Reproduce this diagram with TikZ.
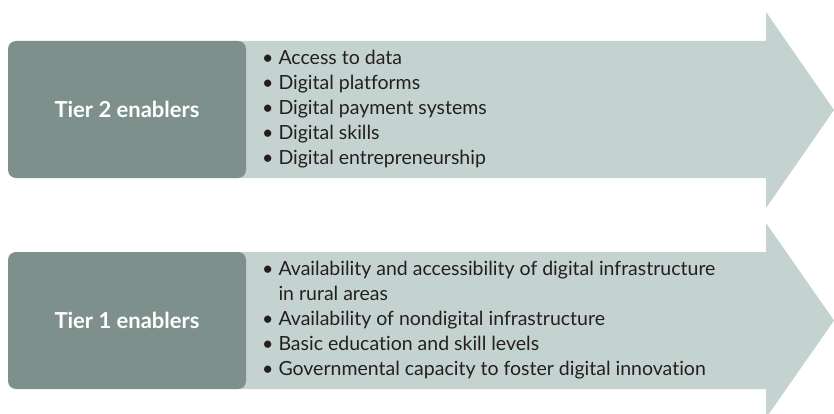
\documentclass[tikz,border=0pt]{standalone}
\usepackage{fontspec}
\setmainfont{Lato}[Ligatures=NoCommon]
\definecolor{tierbox}{RGB}{125,144,140}
\definecolor{tierarrow}{RGB}{197,211,208}
\definecolor{itemtext}{RGB}{35,31,32}
\begin{document}
\begin{tikzpicture}[x=1pt,y=1pt]
\tikzstyle{tier}=[fill=tierbox, rounded corners=8pt, minimum width=238pt, minimum height=137pt, inner sep=0pt, text=white, font=\fontsize{22}{24}\selectfont\bfseries]
\tikzstyle{items}=[anchor=west, align=left, inner sep=0pt, text=itemtext, font=\fontsize{19.5}{25}\selectfont]
\useasboundingbox (0,0) rectangle (834,-414);
\fill [tierarrow] (230,-41) -- (766,-41) -- (766,-12) -- (834,-110) -- (766,-208) -- (766,-178) -- (230,-178) -- cycle;
\fill [tierarrow] (230,-252) -- (766,-252) -- (766,-223) -- (834,-320.5) -- (766,-418) -- (766,-389) -- (230,-389) -- cycle;
\node [tier] (tier2) at (127,-109.5) {Tier 2 enablers};
\node [tier] (tier1) at (127,-320.5) {Tier 1 enablers};
\node [items] (list2) at (262,-109.5) {• Access to data\\• Digital platforms\\• Digital payment systems\\• Digital skills\\• Digital entrepreneurship};
\node [items] (list1) at (262,-320.5) {• Availability and accessibility of digital infrastructure\\\phantom{• }in rural areas\\• Availability of nondigital infrastructure\\• Basic education and skill levels\\• Governmental capacity to foster digital innovation};
\end{tikzpicture}
\end{document}
